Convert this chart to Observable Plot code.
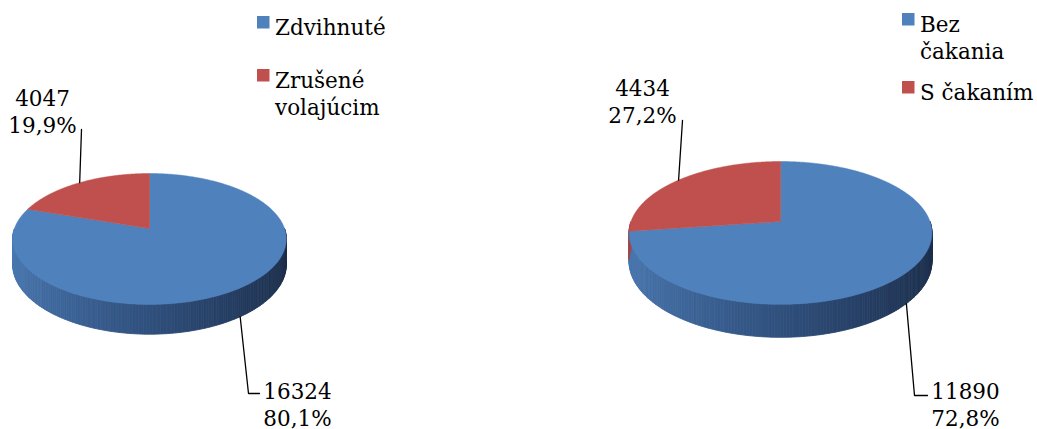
<!DOCTYPE html>
<html><head><meta charset="utf-8">
<script src="https://cdn.jsdelivr.net/npm/d3@7"></script>
<script src="https://cdn.jsdelivr.net/npm/@observablehq/plot@0.6"></script>
<style>body{margin:0;background:#fff}</style>
</head><body><div id="chart"></div>
<script>
// ---- data ----
const categoriesA = ["Zdvihnuté", "Zrušené\nvolajúcim"];
const valuesA = [16324, 4047];
const categoriesB = ["Bez\nčakania", "S čakaním"];
const valuesB = [11890, 4434];
const sliceColors = ["#4f81bd", "#c0504d"];
const sideColors = [["#4a78b0", "#2e4e7c", "#1d2f4b"], ["#a84542", "#7a302e", "#542120"]];

// ---- layout ----
const W = 1037, H = 429, FS = 21.5, LH = 1.27, FONT = "DejaVu Serif";
const tilt = 0.16;
const pies = [
  {values: valuesA, categories: categoriesA, cx: 149, cy: 228, R: 135, ry: 63.8, h: 25,
   labels: [{x: 297, base: 394, leader: [[248, 393], [259, 393]]},
            {x: 42, base: 101, leader: [[81, 129]]}],
   legend: {x: 257, tops: [16, 69]}},
  {values: valuesB, categories: categoriesB, cx: 780, cy: 221, R: 149.5, ry: 69.6, h: 27.7,
   labels: [{x: 965, base: 394, leader: [[914, 395], [927, 395]]},
            {x: 642, base: 91, leader: [[682, 120]]}],
   legend: {x: 902, tops: [13, 81]}}
];
const SQ = 12.5;

function proj(p, a, depth) {
  const px = Math.sin(a), d = -Math.cos(a);
  const s = 1 / (1 - tilt * d);
  return [p.cx + p.R * px * s, p.cy + (p.ry * d + depth) * s];
}
const fmtPct = v => d3.format(".1f")(v).replace(".", ",") + "%";

const sides = [], tops = [], leaders = [], dataLabels = [], legendSq = [], legendTx = [];
pies.forEach((p, pi) => {
  const total = d3.sum(p.values);
  const bounds = [0];
  p.values.forEach((v, i) => bounds.push(bounds[i] + v / total * 2 * Math.PI));
  const sliceAt = a => { for (let i = 0; i < p.values.length; i++) if (a < bounds[i + 1]) return i; return p.values.length - 1; };
  const step = Math.PI / 180;
  for (let a = Math.PI / 2; a < 1.5 * Math.PI - 1e-9; a += step) {
    const a2 = a + step, am = (a + a2) / 2, si = sliceAt(am);
    const u = (Math.sin(am) + 1) / 2;
    const col = d3.interpolateRgbBasis(sideColors[si])(u);
    const id = `s${pi}-${a.toFixed(4)}`;
    [proj(p, a, 0), proj(p, a2, 0), proj(p, a2, p.h), proj(p, a, p.h), proj(p, a, 0)]
      .forEach(([x, y]) => sides.push({id, x, y, fill: col}));
  }
  p.values.forEach((v, i) => {
    const id = `t${pi}-${i}`;
    const a0 = bounds[i], a1 = bounds[i + 1];
    const n = Math.max(2, Math.ceil((a1 - a0) / (Math.PI / 360)));
    tops.push({id, x: p.cx, y: p.cy, fill: sliceColors[i]});
    for (let j = 0; j <= n; j++) {
      const [x, y] = proj(p, a0 + (a1 - a0) * j / n, 0);
      tops.push({id, x, y, fill: sliceColors[i]});
    }
    tops.push({id, x: p.cx, y: p.cy, fill: sliceColors[i]});
    const am = (a0 + a1) / 2;
    const front = -Math.cos(am) > 0;
    const [sx, sy] = proj(p, am, front ? p.h : 0);
    const lid = `l${pi}-${i}`;
    leaders.push({id: lid, x: sx, y: sy});
    p.labels[i].leader.forEach(([x, y]) => leaders.push({id: lid, x, y}));
    dataLabels.push({x: p.labels[i].x, y: p.labels[i].base - 0.71 * FS,
                     text: `${v}\n${fmtPct(v / total * 100)}`});
    const t = p.legend.tops[i];
    legendSq.push({x1: p.legend.x, x2: p.legend.x + SQ, y1: t, y2: t + SQ, fill: sliceColors[i]});
    legendTx.push({x: p.legend.x + SQ + 5, y: t + 14 - 0.71 * FS, text: p.categories[i]});
  });
});

const chart = Plot.plot({
  width: W, height: H, margin: 0,
  x: {domain: [0, W], range: [0, W], axis: null},
  y: {domain: [0, H], range: [0, H], axis: null},
  color: {type: "identity"},
  style: {background: "#fff", fontFamily: FONT, overflow: "visible"},
  marks: [
    Plot.line(sides, {x: "x", y: "y", z: "id", fill: "fill", stroke: "fill", strokeWidth: 0.8}),
    Plot.line(tops, {x: "x", y: "y", z: "id", fill: "fill", stroke: "fill", strokeWidth: 0.5}),
    Plot.line(leaders, {x: "x", y: "y", z: "id", stroke: "black", strokeWidth: 1.3, strokeLinejoin: "miter"}),
    Plot.text(dataLabels, {x: "x", y: "y", text: "text", fontSize: FS, lineHeight: LH, lineAnchor: "top",
      textAnchor: "middle", fill: "black", fontFamily: FONT}),
    Plot.rect(legendSq, {x1: "x1", x2: "x2", y1: "y1", y2: "y2", fill: "fill"}),
    Plot.text(legendTx, {x: "x", y: "y", text: "text", fontSize: FS, lineHeight: LH, lineAnchor: "top",
      textAnchor: "start", fill: "black", fontFamily: FONT})
  ]
});
document.getElementById("chart").appendChild(chart);
</script>
</body></html>
